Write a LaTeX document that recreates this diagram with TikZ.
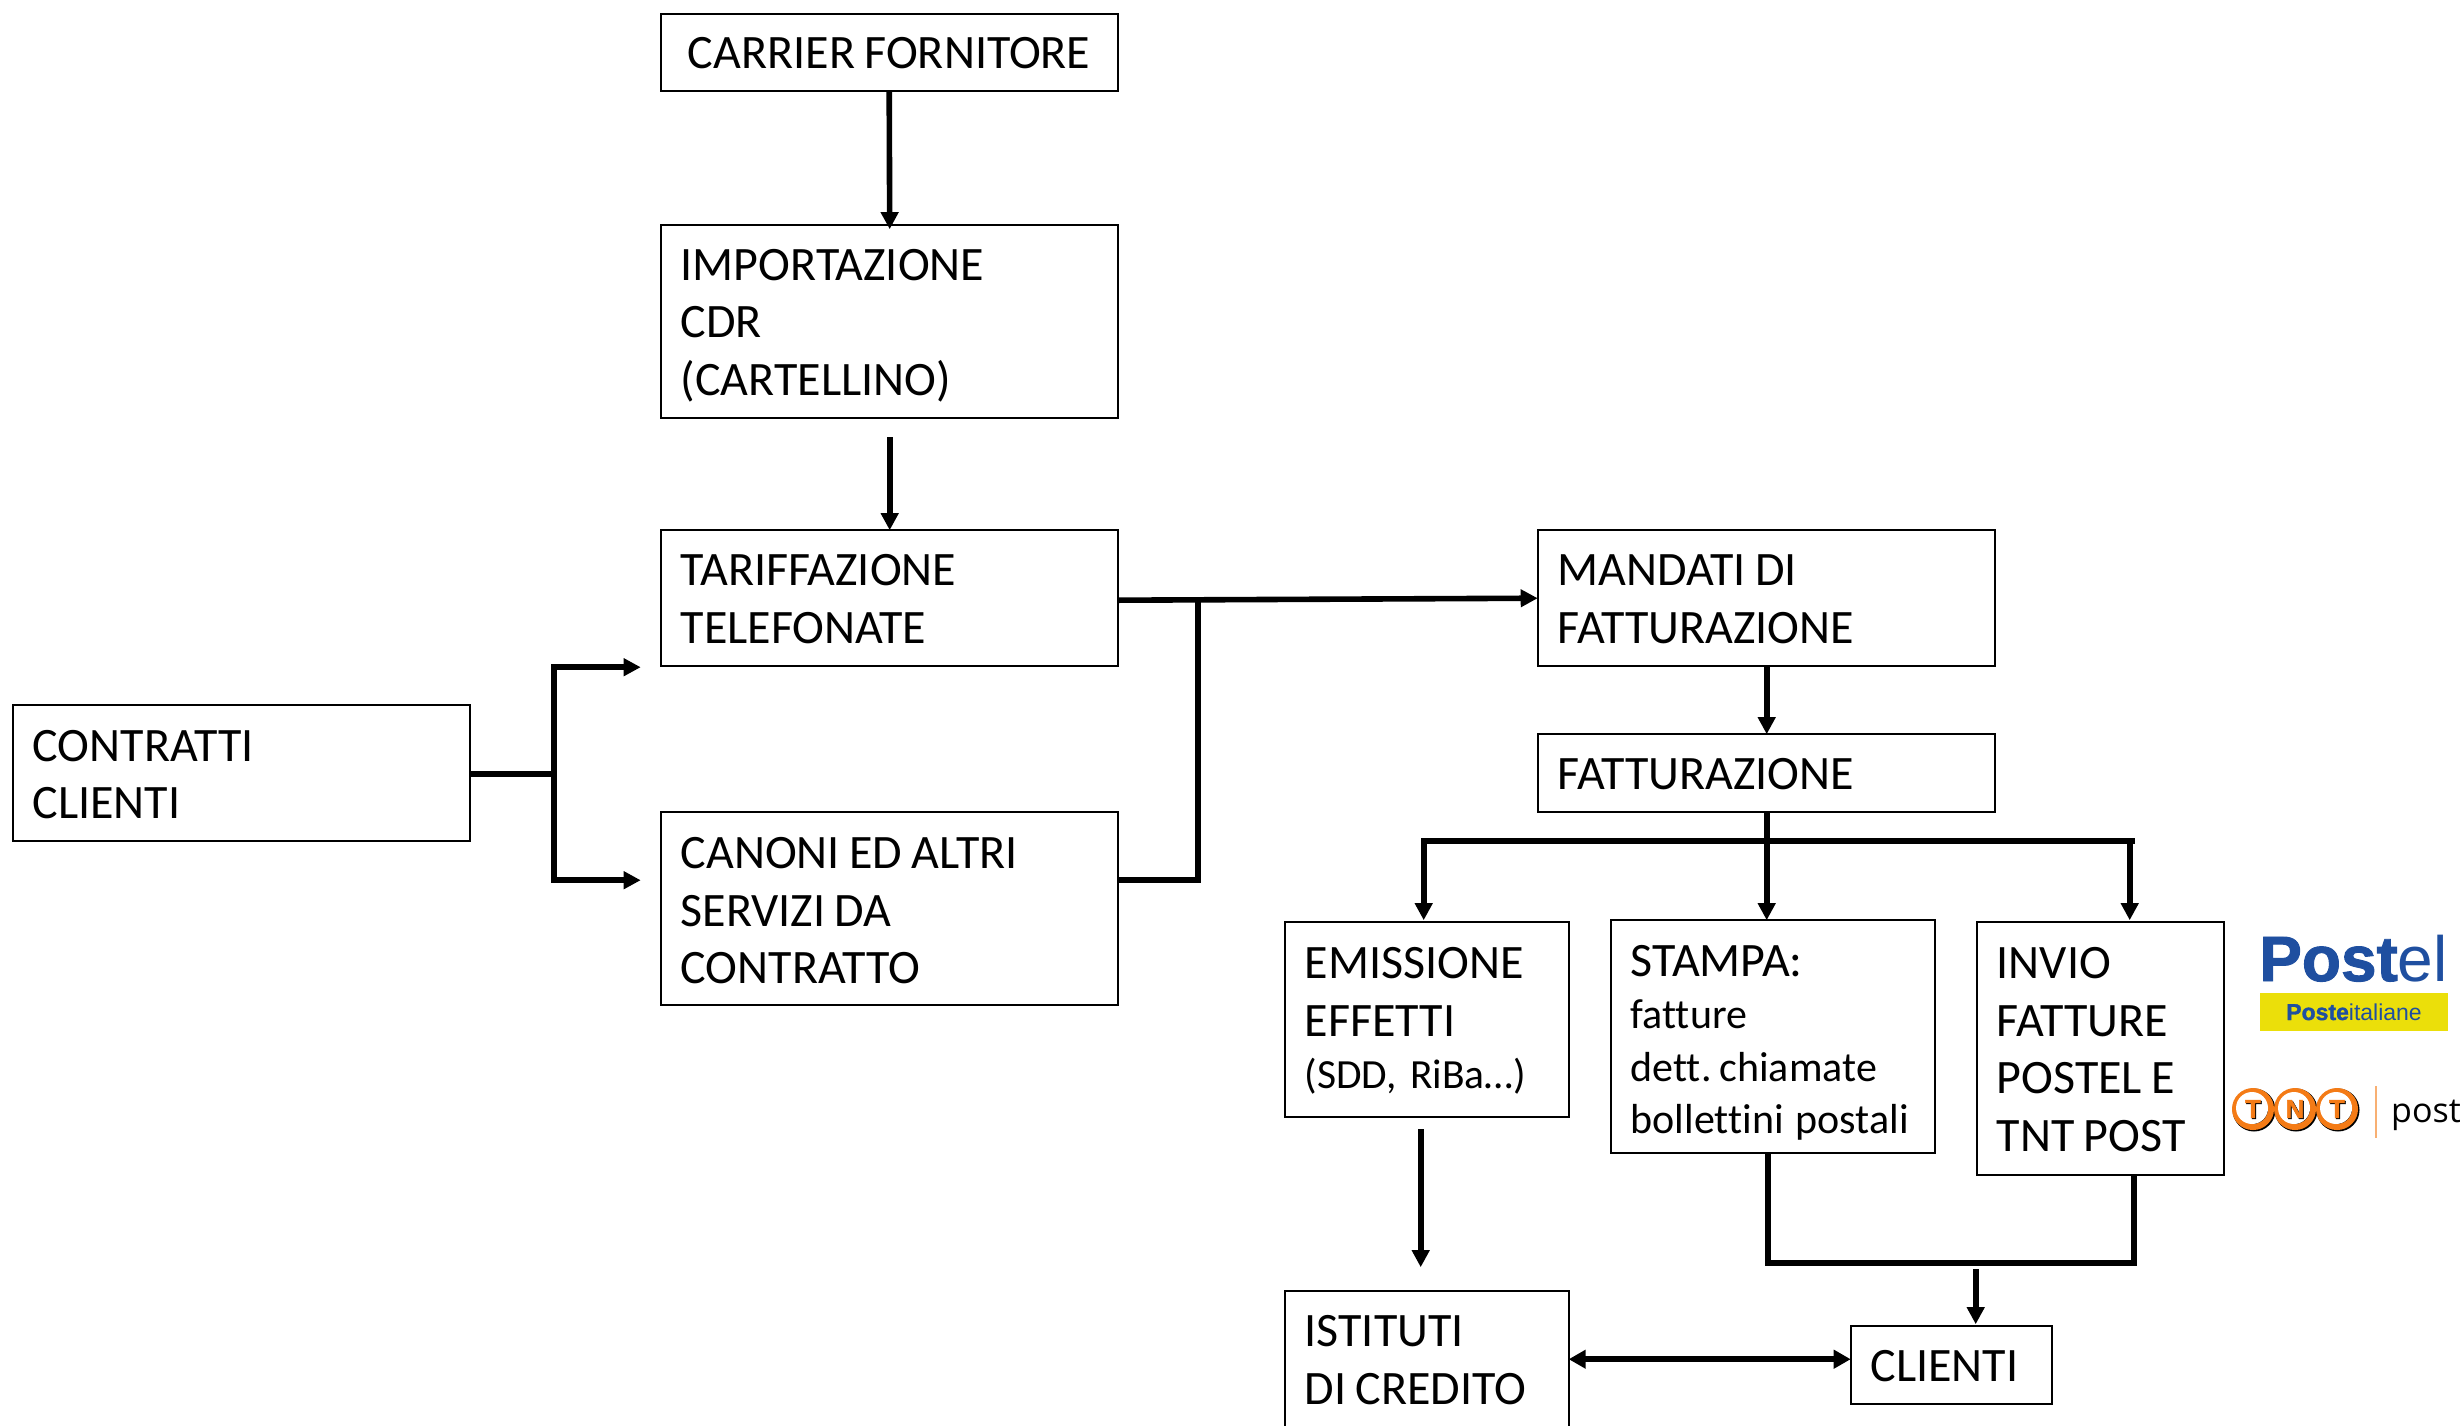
\documentclass[tikz,border=0pt]{standalone}
\usepackage{fontspec}
\setmainfont[Ligatures=NoCommon]{Carlito}
\newfontfamily\logofont[BoldFeatures={FakeBold=1.5}]{Liberation Sans}
\newfontfamily\postfont{Open Sans}
\usetikzlibrary{arrows.meta}
\definecolor{pblue}{HTML}{1F4FA0}
\definecolor{pyellow}{HTML}{EBDF0A}
\definecolor{tntorange}{HTML}{F47B16}
\newcommand{\mainsize}{\fontsize{48}{57.6}\selectfont}
\newcommand{\midsize}{\fontsize{42}{52.5}\selectfont}
\tikzset{
  x=1pt,y=-1pt,
  boxn/.style={draw=black,line width=1.8pt,anchor=north west,align=left,inner xsep=20pt,inner ysep=0pt,outer sep=0pt,font=\mainsize},
  sz/.style 2 args={text width=#1pt-40pt,minimum height=#2pt},
  tdn/.style={execute at begin node={\frenchspacing\spaceskip=9.5pt\relax\rule{0pt}{#1pt}}},
  thin arr/.style={line width=5.6pt,-{Triangle[length=17pt,width=17pt]}},
  thick ln/.style={line width=5.6pt},
  dbl arr/.style={line width=6pt,{Triangle[length=17pt,width=18pt]}-{Triangle[length=17pt,width=18pt]}},
  tntshadow/.style={circle,fill=black,minimum size=43pt,inner sep=0pt},
  tntc/.style={circle,draw=tntorange,line width=6pt,fill=black,minimum size=36pt,inner sep=0pt},
  tnti/.style={circle,fill=white,minimum size=32pt,inner sep=0pt},
  tntl/.style={inner sep=0pt,font=\logofont\bfseries\fontsize{26}{26}\selectfont}
}
\begin{document}
\begin{tikzpicture}
\useasboundingbox (0,0) rectangle (2460,1425);
\clip (0,0) rectangle (2460,1425);
\begin{scope}[shift={(0.7,1.2)}]
\node[boxn,sz={457}{77},align=center,tdn=31] (carrier) at (660,13) {CARRIER FORNITORE};
\node[boxn,sz={457}{193},tdn=39] (cdr) at (660,224) {IMPORTAZIONE\\CDR\\(CARTELLINO)};
\node[boxn,sz={457}{136},tdn=33] (tariff) at (660,529) {TARIFFAZIONE\\TELEFONATE};
\node[boxn,sz={457}{193},tdn=35] (canoni) at (660,811) {CANONI ED ALTRI\\SERVIZI DA\\CONTRATTO};
\node[boxn,sz={457}{136},tdn=34] (contratti) at (12,704) {CONTRATTI\\CLIENTI};
\node[boxn,sz={457}{136},tdn=33] (mandati) at (1537,529) {MANDATI DI\\FATTURAZIONE};
\node[boxn,sz={457}{78},tdn=33] (fatt) at (1537,733) {FATTURAZIONE};
\node[boxn,sz={284}{195},tdn=34] (emiss) at (1284,921) {EMISSIONE\\EFFETTI\\[-5pt]{\fontsize{41.5}{57.6}\selectfont\spaceskip=13.5pt\relax (SDD, RiBa…)}};
\node[boxn,sz={324}{233},font=\midsize,tdn=43] (stampa) at (1610,919) {{\mainsize STAMPA:}\\fatture\\{\spaceskip=8pt\relax dett. chiamate}\\{\spaceskip=12pt\relax bollettini postali}};
\node[boxn,sz={247}{253},tdn=33] (invio) at (1976,921) {INVIO\\FATTURE\\POSTEL E\\TNT POST};
\node[boxn,sz={284}{136},tdn=33] (istituti) at (1284,1290) {ISTITUTI\\DI CREDITO};
\node[boxn,sz={201}{78},tdn=33] (clienti) at (1850,1325) {CLIENTI};
% coordinates
\coordinate (jl) at (553,773);
\coordinate (jlt) at (640,666);
\coordinate (jlb) at (640,879);
\coordinate (jr) at (1197,599);
\coordinate (jrb) at (1197,879);
\coordinate (cdrout) at (889,436);
\coordinate (tarin) at (889,529);
\coordinate (bl) at (1423,840);
\coordinate (bm) at (1766,840);
\coordinate (br) at (2131,840);
\coordinate (ein) at (1423,919);
\coordinate (sin) at (1766,919);
\coordinate (iin) at (2129,919);
\coordinate (eout) at (1420,1128);
\coordinate (iend) at (1420,1266);
\coordinate (sb) at (1767,1262);
\coordinate (ib) at (2133,1262);
\coordinate (cls) at (1975,1268);
\coordinate (cle) at (1975,1323);
\coordinate (dbly) at (1700,1358);
% connectors
\draw[thin arr] (carrier.south) -- (889,228);
\draw[thin arr] (cdrout) -- (tarin);
\draw[thick ln] (contratti.east |- jl) -- (jl);
\draw[thin arr] (553,666) -- (jlt);
\draw[thin arr] (553,879) -- (jlb);
\draw[thick ln,line cap=rect] (553,666) -- (553,879);
\draw[thin arr] (1117,599) -- (mandati.west);
\draw[thick ln] (canoni.east |- jrb) -- (jrb) -- (jr);
\draw[thin arr] (mandati.south -| bm) -- (fatt.north -| bm);
\draw[thin arr] (fatt.south -| bm) -- (sin);
\draw[thick ln,line cap=rect] (bl) -- (br);
\draw[thin arr] (bl) -- (ein);
\draw[thin arr] (br -| iin) -- (iin);
\draw[thin arr] (eout) -- (iend);
\draw[thick ln] (stampa.south -| sb) -- (sb) -- (ib) -- (invio.south -| ib);
\draw[thin arr] (cls) -- (cle);
\draw[dbl arr] (istituti.east |- dbly) -- (clienti.west |- dbly);
\end{scope}
% logos
\node[anchor=base west,inner sep=0pt,text=pblue,font=\logofont\fontsize{64}{64}\selectfont] (postel) at (2259,981) {\bfseries Post\mdseries el};
\node[fill=pyellow,minimum width=188pt,minimum height=38pt,inner sep=0pt,anchor=north west] (pibox) at (2260,993) {};
\node[anchor=base,inner sep=0pt,text=pblue,font=\logofont\fontsize{23}{23}\selectfont] (pit) at (2354,1020) {\bfseries Poste\mdseries italiane};
\node[tntshadow] (s1) at (2254,1110) {};
\node[tntshadow] (s2) at (2296,1110) {};
\node[tntshadow] (s3) at (2338,1110) {};
\node[tntc] (t1) at (2253,1109) {};
\node[tntc] (t3) at (2337,1109) {};
\node[tntc] (n) at (2295,1109) {};
\node[tnti] (i1) at (2252,1108) {};
\node[tnti] (i2) at (2294,1108) {};
\node[tnti] (i3) at (2336,1108) {};
\node[tntl,text=black] (l1s) at (2254,1110) {T};
\node[tntl,text=black] (l2s) at (2296,1110) {N};
\node[tntl,text=black] (l3s) at (2338,1110) {T};
\node[tntl,text=tntorange] (l1) at (2253,1109) {T};
\node[tntl,text=tntorange] (l2) at (2295,1109) {N};
\node[tntl,text=tntorange] (l3) at (2337,1109) {T};
\draw[draw=tntorange!60,line width=1.5pt] (2376,1086) -- (2376,1138);
\node[anchor=base west,inner sep=0pt,font=\postfont\fontsize{34}{34}\selectfont] (post) at (2391,1122) {post};
\end{tikzpicture}
\end{document}
